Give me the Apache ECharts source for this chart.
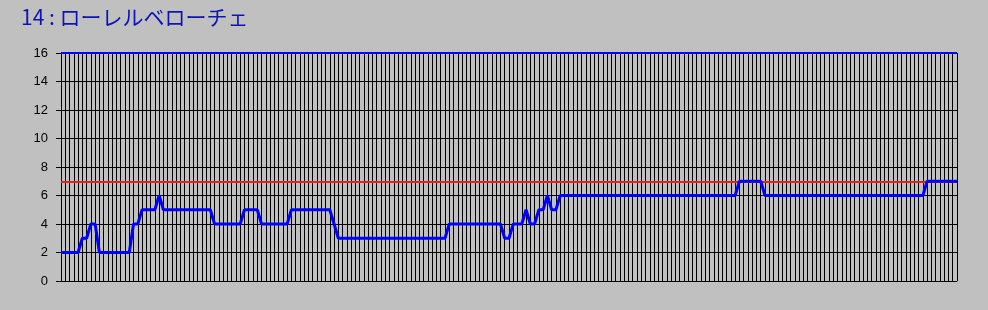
<!DOCTYPE html>
<html>
<head>
<meta charset="utf-8">
<script src="https://cdn.jsdelivr.net/npm/echarts@6/dist/echarts.min.js"></script>
<style>
html,body{margin:0;padding:0;background:#c0c0c0;}
#chart{width:988px;height:310px;}
</style>
</head>
<body>
<div id="chart"></div>
<script>
const titleText = '14 : ローレルベローチェ';
const yTicks = [0, 2, 4, 6, 8, 10, 12, 14, 16];
const upperLine = 16;
const refLine = 7;
const values = [
  2,2,2,2,2, 3,3, 4,4, 2,2,2,2,2,2,2,2, 4,4, 5,5,5,5, 6,
  5,5,5,5,5,5,5,5,5,5,5,5, 4,4,4,4,4,4,4, 5,5,5,5, 4,4,4,4,4,4,4,
  5,5,5,5,5,5,5,5,5,5, 4,
  3,3,3,3,3,3,3,3,3,3,3,3,3,3,3,3,3,3,3,3,3,3,3,3,3,3,
  4,4,4,4,4,4,4,4,4,4,4,4,4, 3,3, 4,4,4, 5, 4,4, 5,5, 6, 5,5,
  6,6,6,6,6,6,6,6,6,6,6,6,6,6,6,6,6,6,6,6,6,6,6,6,6,6,6,6,6,6,6,6,6,6,6,6,6,6,6,6,6,6,
  7,7,7,7,7,7,
  6,6,6,6,6,6,6,6,6,6,6,6,6,6,6,6,6,6,6,6,6,6,6,6,6,6,6,6,6,6,6,6,6,6,6,6,6,6,
  7,7,7,7,7,7,7,7
];
const categories = values.map((v, i) => String(i + 1));

const chart = echarts.init(document.getElementById('chart'), null, {renderer: 'canvas'});
chart.setOption({
  backgroundColor: '#c0c0c0',
  animation: false,
  title: {
    text: titleText,
    left: 16, top: 2,
    textStyle: {color: '#0c14b4', fontSize: 21, fontWeight: 'normal', fontFamily: 'Noto Sans CJK JP'}
  },
  grid: {left: 61, right: 31, top: 53, bottom: 29, containLabel: false},
  xAxis: {
    type: 'category',
    data: categories,
    boundaryGap: false,
    axisLine: {show: true, lineStyle: {color: '#000', width: 1}},
    axisTick: {show: false},
    axisLabel: {show: false},
    splitLine: {show: true, interval: 0, lineStyle: {color: '#000', width: 1}}
  },
  yAxis: {
    type: 'value',
    min: yTicks[0], max: yTicks[yTicks.length - 1], interval: yTicks[1] - yTicks[0],
    axisLine: {show: true, lineStyle: {color: '#000', width: 1}},
    axisTick: {show: true, length: 5, lineStyle: {color: '#000'}},
    axisLabel: {color: '#000', fontSize: 13, margin: 13, fontFamily: 'Liberation Sans'},
    splitLine: {show: true, lineStyle: {color: '#000', width: 1}}
  },
  series: [{
    type: 'line',
    data: values,
    showSymbol: false,
    lineStyle: {color: '#0000ff', width: 3},
    z: 5,
    markLine: {
      silent: true,
      symbol: 'none',
      label: {show: false},
      data: [
        {yAxis: upperLine, lineStyle: {color: '#0000ff', width: 2, type: 'solid'}},
        {yAxis: refLine, lineStyle: {color: '#e8201c', width: 2, type: 'solid'}}
      ]
    }
  }]
});
</script>
</body>
</html>
